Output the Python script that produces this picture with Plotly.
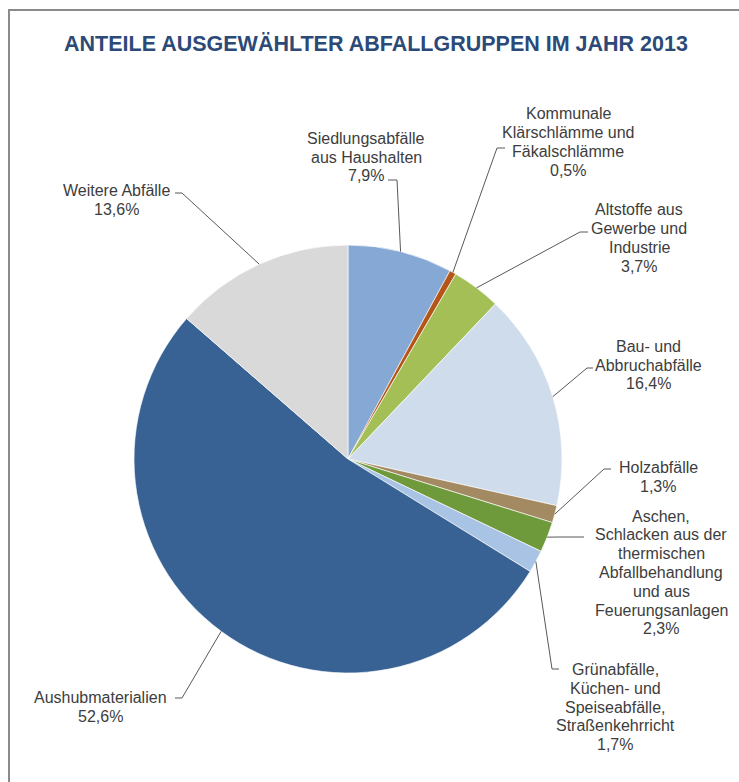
import math
import plotly.graph_objects as go

# Shares of selected waste groups, 2013 (percent), clockwise from 12 o'clock
categories = [
    "Siedlungsabfälle aus Haushalten",
    "Kommunale Klärschlämme und Fäkalschlämme",
    "Altstoffe aus Gewerbe und Industrie",
    "Bau- und Abbruchabfälle",
    "Holzabfälle",
    "Aschen, Schlacken aus der thermischen Abfallbehandlung und aus Feuerungsanlagen",
    "Grünabfälle, Küchen- und Speiseabfälle, Straßenkehrricht",
    "Aushubmaterialien",
    "Weitere Abfälle",
]
shares = [7.9, 0.5, 3.7, 16.4, 1.3, 2.3, 1.7, 52.6, 13.6]
label_lines = [
    ["Siedlungsabfälle", "aus Haushalten"],
    ["Kommunale", "Klärschlämme und", "Fäkalschlämme"],
    ["Altstoffe aus", "Gewerbe und", "Industrie"],
    ["Bau- und", "Abbruchabfälle"],
    ["Holzabfälle"],
    ["Aschen,", "Schlacken aus der", "thermischen", "Abfallbehandlung", "und aus", "Feuerungsanlagen"],
    ["Grünabfälle,", "Küchen- und", "Speiseabfälle,", "Straßenkehrricht"],
    ["Aushubmaterialien"],
    ["Weitere Abfälle"],
]
colors = ["#86a8d4", "#b4561a", "#a4bf56", "#cfdcec", "#a38a62",
          "#6f9a3c", "#a9c3e4", "#386194", "#d9d9d9"]

W, H = 739, 782
CX, CY, R = 348, 459, 214   # pie centre and radius in pixels
LINE_GAP = 18.8             # vertical spacing of label lines
FONT = "Liberation Sans, Arial, Helvetica, sans-serif"

# label layout: text centre (x, y), elbow point, end of horizontal tick
label_pos = [(366, 157), (568, 142), (639, 238), (648, 365), (658, 477),
             (661, 572.5), (615, 707), (100, 707), (116, 200)]
elbows = [(397, 180), (497, 148), (580, 232), (587, 368), (604, 469),
          (560, 537), (552, 669), (182, 698), (182, 193)]
tick_end = [388, 505, 588, 593, 611, 584, 559, 175, 175]


def px(x):
    return x / W


def py(y):
    return 1 - y / H


fig = go.Figure(go.Pie(
    labels=categories,
    values=shares,
    sort=False,
    direction="clockwise",
    rotation=0,
    textinfo="none",
    hoverinfo="label+percent",
    marker=dict(colors=colors, line=dict(color="rgba(255,255,255,0.8)", width=0.8)),
    domain=dict(x=[px(CX - R), px(CX + R)], y=[py(CY + R), py(CY - R)]),
    showlegend=False,
))

shapes = []
annotations = []
total = sum(shares)
cum = 0.0
for i, v in enumerate(shares):
    mid = (cum + v / 2) / total * 2 * math.pi
    cum += v
    rx = CX + R * math.sin(mid)
    ry = CY - R * math.cos(mid)
    ex, ey = elbows[i]
    path = f"M {px(rx)} {py(ry)} L {px(ex)} {py(ey)} L {px(tick_end[i])} {py(ey)}"
    shapes.append(dict(type="path", xref="paper", yref="paper", path=path,
                       line=dict(color="#595959", width=1)))
    pct = f"{v:.1f}".replace(".", ",") + "%"
    lines = label_lines[i] + [pct]
    lx, ly = label_pos[i]
    n = len(lines)
    for k, line in enumerate(lines):
        yk = ly + (k - (n - 1) / 2) * LINE_GAP
        annotations.append(dict(
            x=px(lx), y=py(yk), xref="paper", yref="paper", text=line,
            showarrow=False, xanchor="center", yanchor="middle",
            font=dict(family=FONT, size=16, color="#3d3d3d"),
        ))

# frame around the chart
shapes.append(dict(type="path", xref="paper", yref="paper",
                   path=f"M {px(9)} {py(800)} L {px(9)} {py(10)} L {px(760)} {py(10)}",
                   line=dict(color="#8a8a8a", width=2)))

annotations.append(dict(
    x=px(376), y=py(44), xref="paper", yref="paper",
    text="<b>ANTEILE AUSGEWÄHLTER ABFALLGRUPPEN IM JAHR 2013</b>",
    showarrow=False, xanchor="center", yanchor="middle",
    font=dict(family=FONT, size=21.5, color="#2c4a78"),
))

fig.update_layout(
    width=W, height=H,
    margin=dict(l=0, r=0, t=0, b=0),
    paper_bgcolor="white",
    plot_bgcolor="white",
    shapes=shapes,
    annotations=annotations,
)

fig.write_html("out.html")
